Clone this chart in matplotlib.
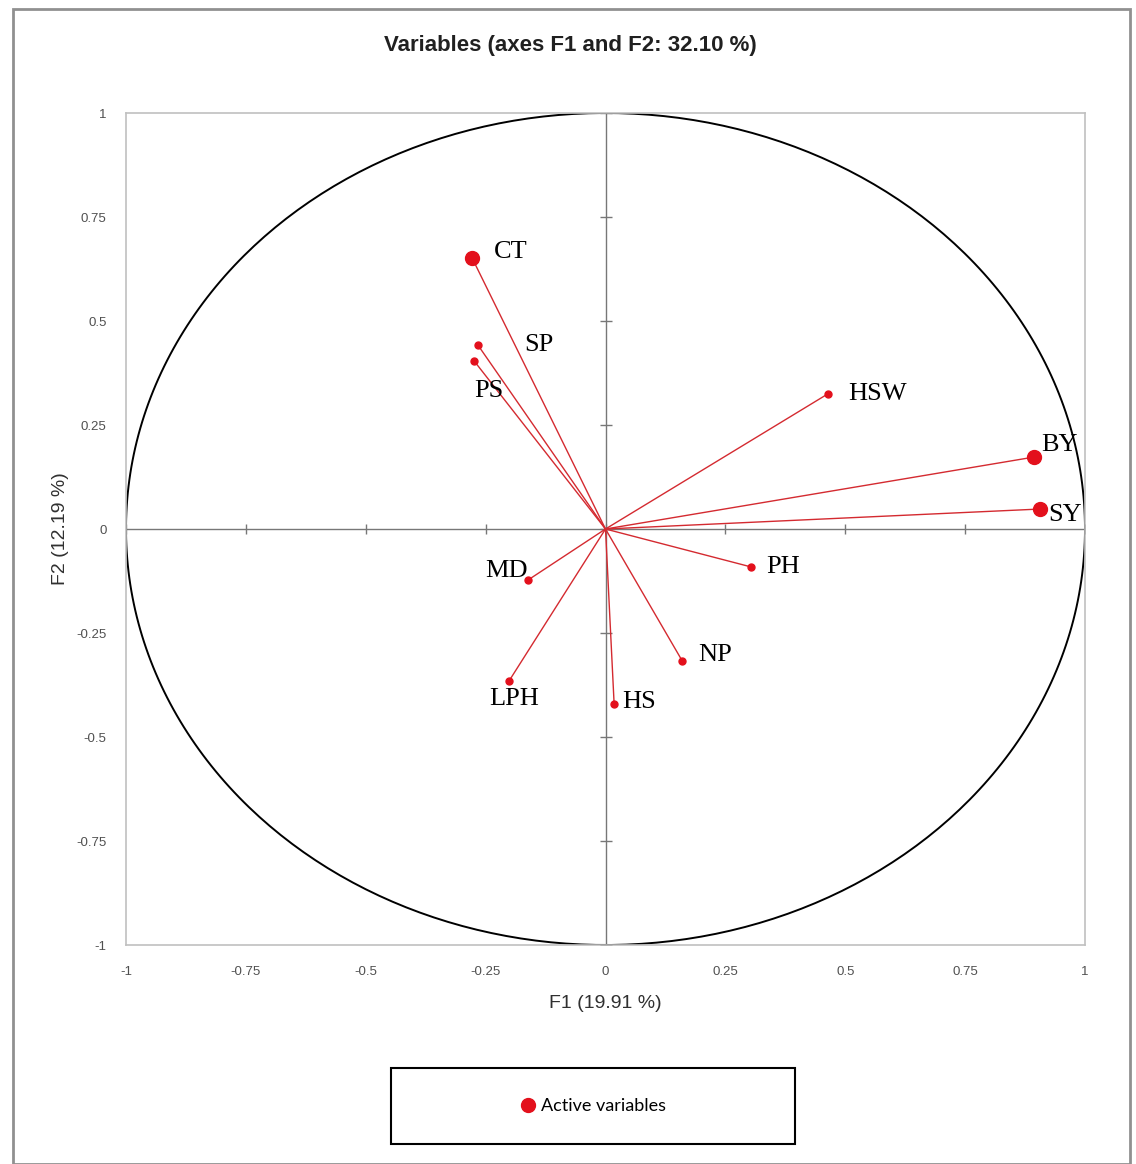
import numpy as np
import matplotlib
matplotlib.use("Agg")
import matplotlib.pyplot as plt
from matplotlib.lines import Line2D
from matplotlib.patches import Rectangle

# correlation of each variable with F1 / F2
variables = ["CT", "SP", "PS", "HSW", "BY", "SY", "PH", "MD", "NP", "LPH", "HS"]
f1 = [-0.278, -0.266, -0.274, 0.464, 0.894, 0.906, 0.303, -0.162, 0.160, -0.201, 0.018]
f2 = [0.651, 0.442, 0.404, 0.325, 0.173, 0.048, -0.091, -0.123, -0.317, -0.365, -0.421]
ticks = [-1, -0.75, -0.5, -0.25, 0, 0.25, 0.5, 0.75, 1]
tick_labels = ["-1", "-0.75", "-0.5", "-0.25", "0", "0.25", "0.5", "0.75", "1"]

# label offsets in pixels (dx, dy, ha)
label_pos = {
    "CT": (22, 6, "left"), "SP": (46, 0, "left"), "PS": (15, -30, "center"),
    "HSW": (20, 0, "left"), "BY": (7, 12, "left"), "SY": (8, -6, "left"),
    "PH": (15, 0, "left"), "MD": (0, 9, "right"), "NP": (16, 6, "left"),
    "LPH": (5, -18, "center"), "HS": (8, 2, "left"),
}

sans = "Liberation Sans"
red = "#e3101c"
line_red = "#d42a30"

fig = plt.figure(figsize=(11.36, 11.64), dpi=100)
W, H = 1136, 1164
ax = fig.add_axes([126 / W, 1 - 945 / H, (1085 - 126) / W, (945 - 113) / H])
ax.set_xlim(-1, 1)
ax.set_ylim(-1, 1)

for s in ax.spines.values():
    s.set_color("#c0c0c0")
    s.set_linewidth(1.2)

# unit circle
t = np.linspace(0, 2 * np.pi, 400)
ax.plot(np.cos(t), np.sin(t), color="black", lw=1.4, zorder=2)

# zero axes with small cross ticks
ax.axhline(0, color="#777777", lw=1.0, zorder=1)
ax.axvline(0, color="#777777", lw=1.0, zorder=1)
ax.plot(ticks, np.zeros(len(ticks)), ls="none", marker="|", ms=7, mew=1.0, color="#777777", zorder=1)
ax.plot(np.zeros(len(ticks)), ticks, ls="none", marker="_", ms=8, mew=1.0, color="#777777", zorder=1)

# vectors
for name, x, y in zip(variables, f1, f2):
    cos2 = x ** 2 + y ** 2
    ms = 10 if cos2 >= 0.5 else 5
    ax.plot([0, x], [0, y], color=line_red, lw=1.0, zorder=3)
    ax.plot(x, y, "o", color=red, ms=ms, mec=red, zorder=4)
    dx, dy, ha = label_pos[name]
    ax.annotate(name, (x, y), xytext=(dx * 0.72, dy * 0.72), textcoords="offset points",
                ha=ha, va="center", fontsize=19, family="Liberation Serif", color="black", zorder=5)

ax.set_xticks(ticks)
ax.set_xticklabels(tick_labels)
ax.set_yticks(ticks)
ax.set_yticklabels(tick_labels)
ax.tick_params(length=0, labelsize=9.5, labelcolor="#505050", pad=15)
for lbl in ax.get_xticklabels() + ax.get_yticklabels():
    lbl.set_family(sans)
ax.tick_params(axis="y", pad=14)

ax.set_xlabel("F1 (19.91 %)", fontsize=14, family=sans, color="#303030", labelpad=12)
ax.set_ylabel("F2 (12.19 %)", fontsize=14, family=sans, color="#303030", labelpad=5)
fig.text(570 / W, 1 - 45 / H, "Variables (axes F1 and F2: 32.10 %)", ha="center", va="center",
         fontsize=16, fontweight="bold", family=sans, color="#202020")

# legend box
fig.patches.append(Rectangle((391 / W, 1 - 1144 / H), 404 / W, 76 / H, transform=fig.transFigure,
                             fill=False, edgecolor="black", lw=1.5))
handle = Line2D([], [], ls="none", marker="o", ms=10, color=red)
fig.legend([handle], ["Active variables"], loc="center", bbox_to_anchor=(588 / W, 1 - 1106 / H),
           frameon=False, handletextpad=-0.3, prop={"family": "Lato", "size": 13})

# outer frame
fig.patches.append(Rectangle((13 / W, 0), 1117 / W, 1 - 9 / H, transform=fig.transFigure,
                             fill=False, edgecolor="#909090", lw=2))

fig.savefig("out.png", dpi=100)
